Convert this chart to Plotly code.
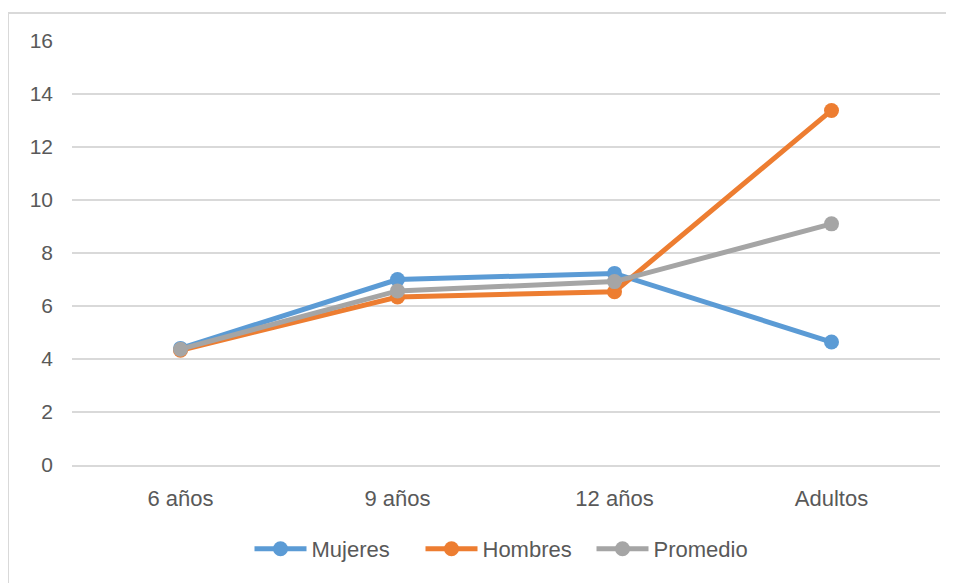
import plotly.graph_objects as go

categories = ["6 años", "9 años", "12 años", "Adultos"]
mujeres = [4.40, 7.00, 7.23, 4.64]
hombres = [4.33, 6.34, 6.54, 13.38]
promedio = [4.37, 6.57, 6.92, 9.10]
y_ticks = [0, 2, 4, 6, 8, 10, 12, 14, 16]

series = [
    ("Mujeres", mujeres, "#5B9BD5"),
    ("Hombres", hombres, "#ED7D31"),
    ("Promedio", promedio, "#A5A5A5"),
]

fig = go.Figure()
for name, vals, color in series:
    fig.add_trace(go.Scatter(
        x=categories, y=vals, name=name, mode="lines+markers",
        line=dict(color=color, width=5),
        marker=dict(color=color, size=15),
    ))

font = "Liberation Sans, Arial, sans-serif"
fig.update_layout(
    width=954, height=583,
    margin=dict(l=64, r=22, t=33, b=126),
    paper_bgcolor="white", plot_bgcolor="white",
    font=dict(family=font, size=21, color="#595959"),
    showlegend=True,
    legend=dict(orientation="h", x=0.5, xanchor="center", y=-0.198, yanchor="middle",
                font=dict(size=22, color="#595959"), itemwidth=52,
                entrywidth=104, entrywidthmode="pixels", traceorder="normal"),
    xaxis=dict(type="category", range=[-0.5, 3.5], showgrid=False, showline=True,
               linecolor="#D9D9D9", linewidth=1.5, ticks="", ticklabelstandoff=13,
               tickfont=dict(size=22), fixedrange=True),
    yaxis=dict(range=[0, 16], tickvals=y_ticks, showgrid=True, gridcolor="#D9D9D9",
               gridwidth=1.5, zeroline=False, showline=False, ticks="",
               ticklabelstandoff=18, tickfont=dict(size=21), fixedrange=True),
    shapes=[dict(type="rect", xref="paper", yref="paper",
                 x0=-64 / 868, x1=1.2, y0=-0.5, y1=452 / 424,
                 line=dict(color="#D9D9D9", width=2), fillcolor="rgba(0,0,0,0)",
                 layer="below")],
)

fig.write_html("out.html")
